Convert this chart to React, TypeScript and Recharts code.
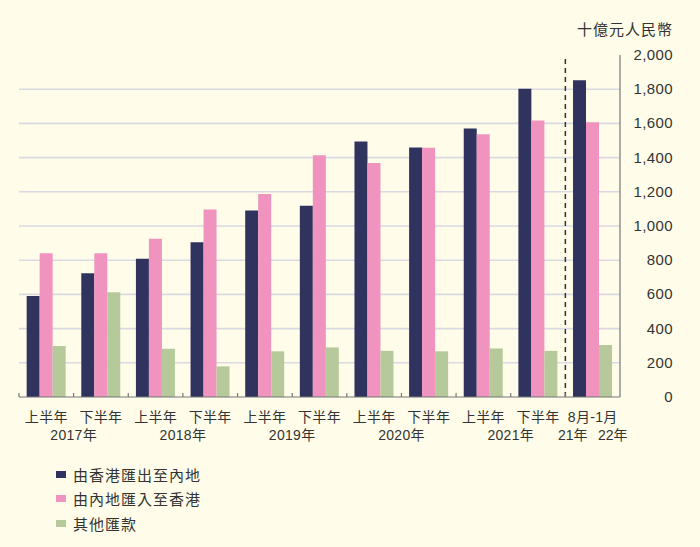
import React from 'react';
import { BarChart, Bar, XAxis, YAxis, CartesianGrid, ReferenceLine } from 'recharts';

const periods = ['2017H1', '2017H2', '2018H1', '2018H2', '2019H1', '2019H2', '2020H1', '2020H2', '2021H1', '2021H2', '2021-08_2022-01'];
const periodLabels = ['上半年', '下半年', '上半年', '下半年', '上半年', '下半年', '上半年', '下半年', '上半年', '下半年', '8月-1月'];
const yearLabels = ['2017年', '2018年', '2019年', '2020年', '2021年'];
const lastYearLabels = ['21年', '22年'];

const outflowHK = [591, 724, 809, 905, 1091, 1119, 1494, 1459, 1570, 1802, 1852];
const inflowHK = [840, 840, 926, 1097, 1187, 1414, 1368, 1457, 1537, 1617, 1607];
const otherRemit = [298, 613, 282, 179, 267, 290, 270, 267, 284, 270, 304];

const seriesNames = ['由香港匯出至內地', '由內地匯入至香港', '其他匯款'];
const yTicks = [0, 200, 400, 600, 800, 1000, 1200, 1400, 1600, 1800, 2000];
const gridValues = [200, 400, 600, 800, 1000, 1200, 1400, 1600, 1800];
const unitLabel = '十億元人民幣';

const COLORS = ['#31335F', '#F093BF', '#B5C99B'];
const BG = '#FFFDE9';
const TEXT = '#333333';
const FONT = "'Liberation Sans', 'Noto Sans CJK TC', sans-serif";

const W = 700;
const H = 547;
const M = { top: 55, right: 0, left: 19, bottom: 100 };
const Y_AXIS_W = 80;
const X_AXIS_H = 50;
const BAND = (W - M.left - M.right - Y_AXIS_W) / periods.length;

const data = periods.map((p, i) => ({
  period: p,
  outflow: outflowHK[i],
  inflow: inflowHK[i],
  other: otherRemit[i],
}));

const XTick = (props: any) => {
  const { x, y } = props;
  const i = props.payload?.index ?? props.index ?? 0;
  const last = i === periods.length - 1;
  return (
    <g>
      <line x1={x - BAND / 2} x2={x - BAND / 2} y1={y - 4} y2={y} stroke="#777" strokeWidth={1.2} />
      <text x={x} y={y + 25} textAnchor="middle" fill={TEXT} fontSize={14} fontFamily={FONT} letterSpacing={0.3}>
        {periodLabels[i]}
      </text>
      {i % 2 === 1 && !last && (
        <text x={x - BAND / 2} y={y + 43} textAnchor="middle" fill={TEXT} fontSize={14} fontFamily={FONT} letterSpacing={0.3}>
          {yearLabels[(i - 1) / 2]}
        </text>
      )}
      {last && (
        <g>
          <text x={x - 20} y={y + 43} textAnchor="middle" fill={TEXT} fontSize={14} fontFamily={FONT}>
            {lastYearLabels[0]}
          </text>
          <text x={x + 20} y={y + 43} textAnchor="middle" fill={TEXT} fontSize={14} fontFamily={FONT}>
            {lastYearLabels[1]}
          </text>
        </g>
      )}
    </g>
  );
};

const YTick = (props: any) => {
  const { x, y, payload } = props;
  return (
    <text x={x + 53} y={y} dy={5} textAnchor="end" fill={TEXT} fontSize={15} fontFamily={FONT} letterSpacing={0.4}>
      {Number(payload.value).toLocaleString('en-US')}
    </text>
  );
};

const gridGen = (args: any) => {
  const yAxis = args?.yAxis;
  const off = args?.offset;
  if (yAxis && typeof yAxis.scale === 'function') {
    return gridValues.map((v) => yAxis.scale(v));
  }
  const top = off?.top ?? M.top;
  const h = off?.height ?? H - M.top - M.bottom - X_AXIS_H;
  return gridValues.map((v) => top + h * (1 - v / 2000));
};

export default function App() {
  const keys = ['outflow', 'inflow', 'other'];
  return (
    <div style={{ position: 'absolute', left: 0, top: 0, width: W, height: H, background: BG, fontFamily: FONT }}>
      <div
        style={{
          position: 'absolute',
          right: W - 673,
          top: 19,
          fontSize: 15,
          letterSpacing: 1,
          color: TEXT,
          lineHeight: '22px',
          whiteSpace: 'nowrap',
        }}
      >
        {unitLabel}
      </div>
      <BarChart width={W} height={H} data={data} margin={M} barCategoryGap="14%" barGap={0}>
        <CartesianGrid vertical={false} stroke="#D9D9E4" strokeWidth={1.6} horizontalCoordinatesGenerator={gridGen} />
        <XAxis
          dataKey="period"
          height={X_AXIS_H}
          interval={0}
          tickLine={false}
          tickSize={0}
          tickMargin={0}
          axisLine={{ stroke: '#777', strokeWidth: 1.2 }}
          tick={<XTick />}
        />
        <YAxis
          orientation="right"
          width={Y_AXIS_W}
          domain={[0, 2000]}
          ticks={yTicks}
          interval={0}
          tickLine={false}
          tickSize={0}
          tickMargin={0}
          axisLine={{ stroke: '#777', strokeWidth: 1.2 }}
          tick={<YTick />}
        />
        {keys.map((k, i) => (
          <Bar key={k} dataKey={k} name={seriesNames[i]} fill={COLORS[i]} isAnimationActive={false} />
        ))}
        <ReferenceLine x={periods[9]} position="end" stroke="#333" strokeWidth={1.5} strokeDasharray="5 4" />
      </BarChart>
      <div style={{ position: 'absolute', left: 56, top: 462 }}>
        {seriesNames.map((n, i) => (
          <div key={n} style={{ display: 'flex', alignItems: 'center', height: 24.5 }}>
            <div style={{ width: 10, height: 7, background: COLORS[i], marginRight: 7 }} />
            <span style={{ fontSize: 15, letterSpacing: 1, color: TEXT }}>{n}</span>
          </div>
        ))}
      </div>
    </div>
  );
}
